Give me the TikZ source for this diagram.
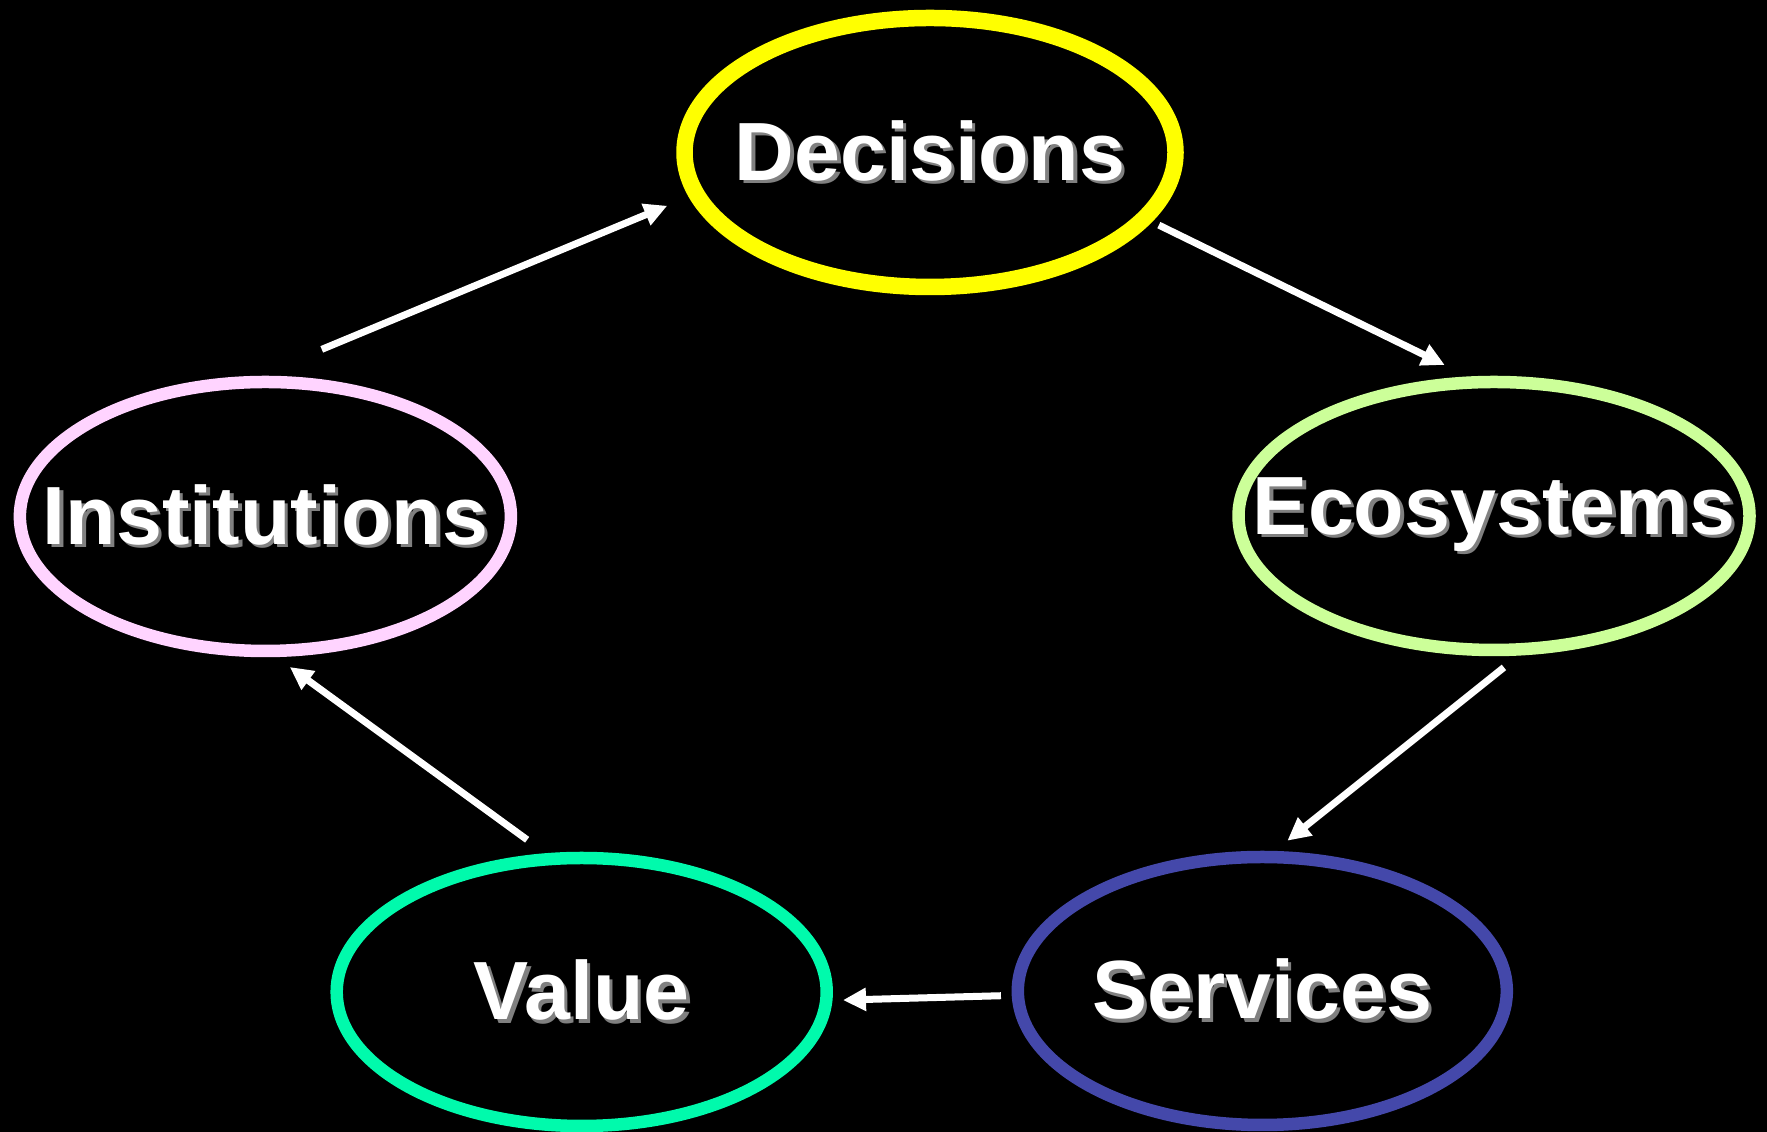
\documentclass[tikz,border=0pt]{standalone}
\usepackage{fontspec}
\setmainfont{Liberation Sans}
\usetikzlibrary{shapes.geometric,arrows.meta}

\definecolor{decyellow}{RGB}{255,255,0}
\definecolor{ecogreen}{RGB}{204,255,153}
\definecolor{instpink}{RGB}{255,212,255}
\definecolor{servblue}{RGB}{68,72,170}
\definecolor{valgreen}{RGB}{0,250,172}

% white word with a soft grey shadow, no width of its own
\newcommand{\shtext}[1]{\makebox[0pt]{\rlap{\hspace{0.35mm}\raisebox{-0.35mm}{\color{black!50}#1}}#1}}

\begin{document}
\begin{tikzpicture}[
    bubble/.style={ellipse, draw, line width=1.25mm, outer sep=0pt, inner sep=0pt,
                   text=white, font=\fontsize{23.5}{28}\selectfont\bfseries},
    flow/.style={draw=white, line width=0.7mm, -{Triangle[length=2.3mm,width=2.2mm]}}]
                \fill[black] (0,0) rectangle (17.67,11.32);
                \useasboundingbox (0,0) rectangle (17.67,11.32);

                \node[bubble, draw=decyellow, line width=1.65mm, minimum width=4.91cm, minimum height=2.69cm] (dec) at (9.30,9.795) {\shtext{Decisions}};
                \node[bubble, draw=ecogreen, minimum width=5.11cm, minimum height=2.68cm] (eco) at (14.94,6.16) {\shtext{Ecosystems}};
                \node[bubble, draw=instpink, minimum width=4.91cm, minimum height=2.69cm] (inst) at (2.654,6.155) {\shtext{Institutions}};
                \node[bubble, draw=servblue, minimum width=4.89cm, minimum height=2.68cm] (serv) at (12.623,1.41) {\shtext{Services}};
                \node[bubble, draw=valgreen, minimum width=4.90cm, minimum height=2.68cm] (val) at (5.817,1.40) {\shtext{Value}};

                \draw[flow, shorten <=8.66mm, shorten >=3.15mm] (inst.100.8) -- (dec.190.3);
                \draw[flow, shorten <=1.61mm, shorten >=3.92mm] (dec.343.4) -- (eco.96.8);
                \draw[flow, shorten <=2.97mm, shorten >=2.61mm] (eco.284.9) -- (serv.88.2);
                \draw[flow, shorten <=1.70mm, shorten >=1.68mm] (serv.181.9) -- (val.358.4);
                \draw[flow, shorten <=3.25mm, shorten >=2.73mm] (val.102.9) -- (inst.271.1);
                %\draw (dec) -- (serv);
                \end{tikzpicture}
\end{document}
